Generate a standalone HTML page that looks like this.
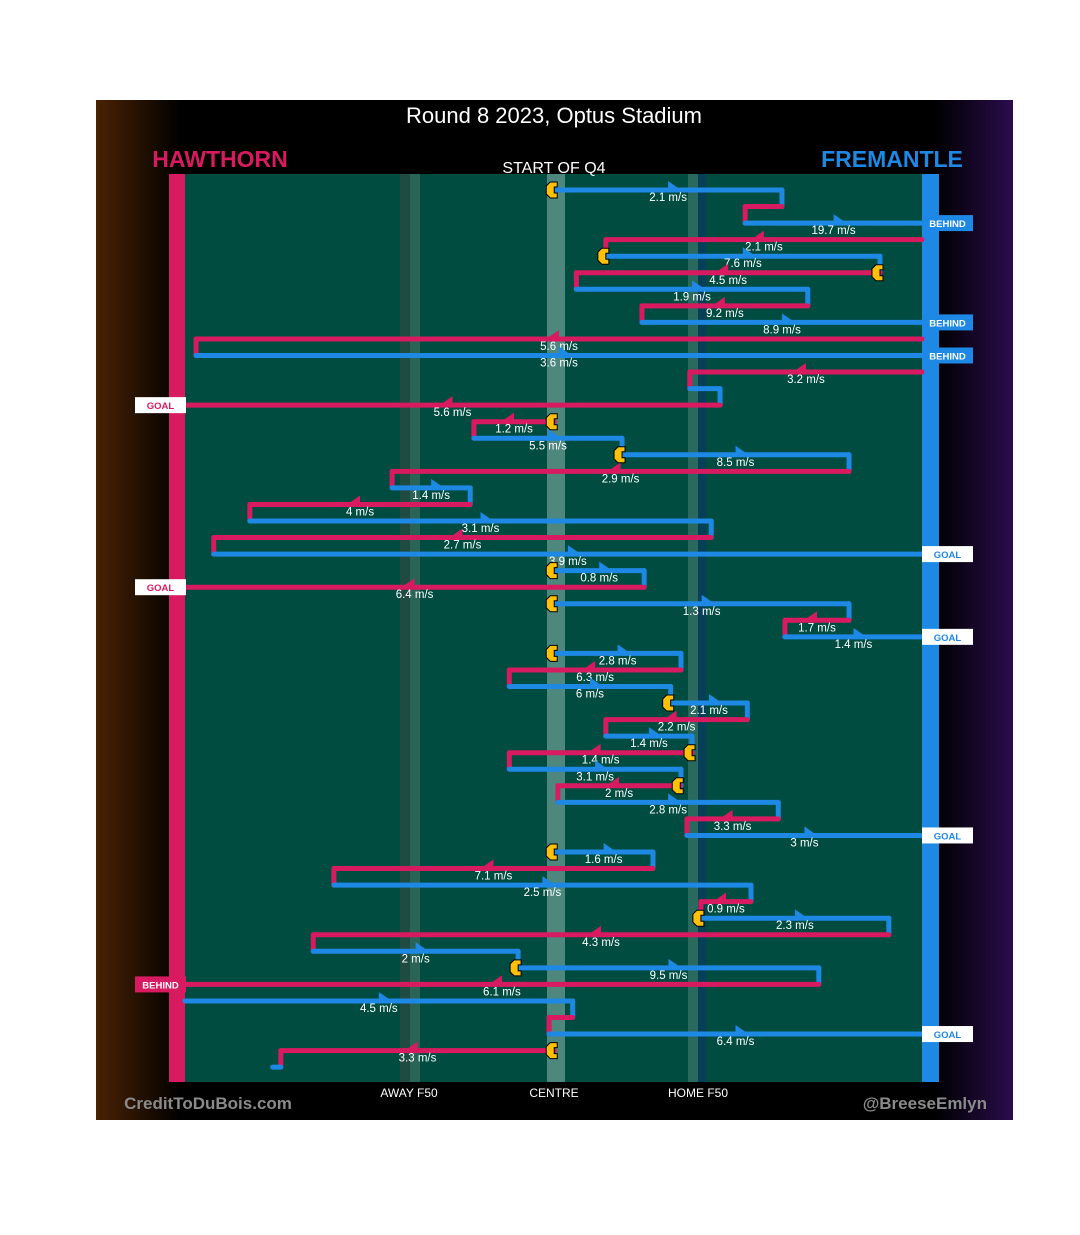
<!DOCTYPE html>
<html><head><meta charset="utf-8"><style>
html,body{margin:0;padding:0;background:#fff;}
svg{display:block;font-family:"Liberation Sans",sans-serif;}
</style></head><body>
<svg id="chart" width="1080" height="1235" viewBox="0 0 1080 1235">
<defs>
<linearGradient id="lg" x1="0" x2="1"><stop offset="0" stop-color="#4a2204"/><stop offset="1" stop-color="#000"/></linearGradient>
<linearGradient id="rg" x1="0" x2="1"><stop offset="0" stop-color="#000"/><stop offset="1" stop-color="#2a0c4c"/></linearGradient>
</defs>
<rect x="96" y="100" width="917" height="1020" fill="#000"/>
<rect x="96" y="100" width="85" height="1020" fill="url(#lg)"/>
<rect x="935" y="100" width="78" height="1020" fill="url(#rg)"/>
<rect x="185" y="174" width="737" height="908" fill="#004c40"/>
<rect x="400" y="174" width="10" height="908" fill="#1f4b40"/>
<rect x="410" y="174" width="10" height="908" fill="#2a6457"/>
<rect x="547" y="174" width="18" height="908" fill="#4d877d"/>
<rect x="688" y="174" width="10" height="908" fill="#2a6a5e"/>
<rect x="698" y="174" width="8" height="908" fill="#073f58"/>
<rect x="169" y="174" width="16" height="908" fill="#d81b60"/>
<rect x="922" y="174" width="17" height="908" fill="#1e88e5"/>
<text x="554" y="123" fill="#fff" font-size="22" text-anchor="middle">Round 8 2023, Optus Stadium</text>
<text x="220" y="167" fill="#d81b60" font-size="23" font-weight="bold" text-anchor="middle">HAWTHORN</text>
<text x="892" y="167" fill="#1e88e5" font-size="23" font-weight="bold" text-anchor="middle">FREMANTLE</text>
<text x="554" y="173" fill="#fff" font-size="16" text-anchor="middle">START OF Q4</text>
<text x="409" y="1097" fill="#fff" font-size="12" text-anchor="middle">AWAY F50</text>
<text x="554" y="1097" fill="#fff" font-size="12" text-anchor="middle">CENTRE</text>
<text x="698" y="1097" fill="#fff" font-size="12" text-anchor="middle">HOME F50</text>
<text x="208" y="1109" fill="#8a8a8a" font-size="17" font-weight="bold" text-anchor="middle">CreditToDuBois.com</text>
<text x="987" y="1109" fill="#8a8a8a" font-size="17" font-weight="bold" text-anchor="end">@BreeseEmlyn</text>
<g id="marks"></g>
</svg>
<script>
const rowTeam = ['F','H','F','H','F','H','F','H','F','H','F','H','F','H','H','F','F','H','F','H','F','H','F','F','H','F','H','F','F','H','F','F','H','F','H','F','H','F','H','F','F','H','F','H','F','H','F','F','H','F','H','F','H','F'];
const rowFrom = [50.1,81.0,76.0,100,57.1,94.3,53.1,84.5,62.0,100,1.5,100,68.5,72.6,50.1,39.2,59.3,90.1,28.1,38.7,8.8,71.4,3.9,50.1,62.3,50.1,90.1,81.4,50.1,67.3,44.0,65.9,76.3,57.1,68.8,44.0,67.2,50.6,80.5,68.1,50.1,63.5,20.2,76.8,70.0,95.5,17.4,45.2,86.0,0,52.6,49.4,50.1,13.0];
const rowTo = [81.0,76.0,100,57.1,94.3,53.1,84.5,62.0,100,1.5,100,68.5,72.6,0,39.2,59.3,90.1,28.1,38.7,8.8,71.4,3.9,100,62.3,0,90.1,81.4,100,67.3,44.0,65.9,76.3,57.1,68.8,44.0,67.3,50.6,80.5,68.1,100,63.5,20.2,76.8,70.0,95.5,17.4,45.2,86.0,0,52.6,49.4,100,13.0,11.9];
const rowSpeed = ['2.1','','19.7','2.1','7.6','4.5','1.9','9.2','8.9','5.6','3.6','3.2','','5.6','1.2','5.5','8.5','2.9','1.4','4','3.1','2.7','3.9','0.8','6.4','1.3','1.7','1.4','2.8','6.3','6','2.1','2.2','1.4','1.4','3.1','2','2.8','3.3','3','1.6','7.1','2.5','0.9','2.3','4.3','2','9.5','6.1','4.5','','6.4','3.3',''];
const markerRows = [1,5,6,15,17,24,26,29,32,35,37,41,45,48,53];
const outcomeRows = [3,9,11,14,23,25,28,40,49,52];
const outcomeText = ['BEHIND','BEHIND','BEHIND','GOAL','GOAL','GOAL','GOAL','GOAL','BEHIND','GOAL'];

const NS='http://www.w3.org/2000/svg';
const g=document.getElementById('marks');
const xs=p=>185+p*7.37;
const ys=i=>190+i*16.55;
const col=t=>t==='F'?'#1e88e5':'#d81b60';
function mk(tag,attrs){const e=document.createElementNS(NS,tag);for(const k in attrs)e.setAttribute(k,attrs[k]);g.appendChild(e);return e;}

for(let i=0;i<rowTeam.length-1;i++){
  if(outcomeRows.includes(i+1))continue;
  const v=mk('line',{x1:xs(rowTo[i]),x2:xs(rowTo[i]),y1:ys(i),y2:ys(i+1),stroke:col(rowTeam[i]),'stroke-width':5,'stroke-linecap':'round'});
  
  
}
for(let i=0;i<rowTeam.length;i++){
  const x1=xs(rowFrom[i]),x2=xs(rowTo[i]),y=ys(i),c=col(rowTeam[i]);
  const l=mk('line',{x1:x1,x2:x2,y1:y,y2:y,stroke:c,'stroke-width':5,'stroke-linecap':'round'});
  
  
  if(rowSpeed[i]){
    const mx=(x1+x2)/2, d=x2>x1?1:-1;
    const a=mk('polygon',{points:`${mx},${y-9} ${mx},${y} ${mx+d*13},${y}`,fill:c});
    
    
    const t=mk('text',{x:mx,y:y+11,fill:'#fff','font-size':11.5,'text-anchor':'middle'});
    t.textContent=rowSpeed[i]+' m/s';
    
    
  }
}
markerRows.forEach(r=>{
  const i=r-1, x=xs(rowFrom[i]), y=ys(i);
  const m=mk('path',{d:`M${x+3},${y-8} L${x-4},${y-8} L${x-8},${y-4} L${x-8},${y+4} L${x-4},${y+8} L${x+3},${y+8} L${x+3},${y+3} L${x},${y+3} L${x},${y-3} L${x+3},${y-3} Z`,fill:'#ffc107',stroke:'#000','stroke-width':1});
  
  
});
outcomeRows.forEach((r,k)=>{
  const i=r-1, y=ys(i), right=rowTo[i]>=100, t=rowTeam[i], goal=outcomeText[k]==='GOAL';
  const bx=right?922:135;
  const bg=goal?'#fff':col(t), fg=goal?col(t):'#fff';
  const b=mk('rect',{x:bx,y:y-8,width:51,height:16,fill:bg});
  
  
  const tx=mk('text',{x:bx+25.5,y:y+4,fill:fg,'font-size':9.5,'font-weight':'bold','text-anchor':'middle'});
  tx.textContent=outcomeText[k];
  
  
});
</script>
</body></html>
